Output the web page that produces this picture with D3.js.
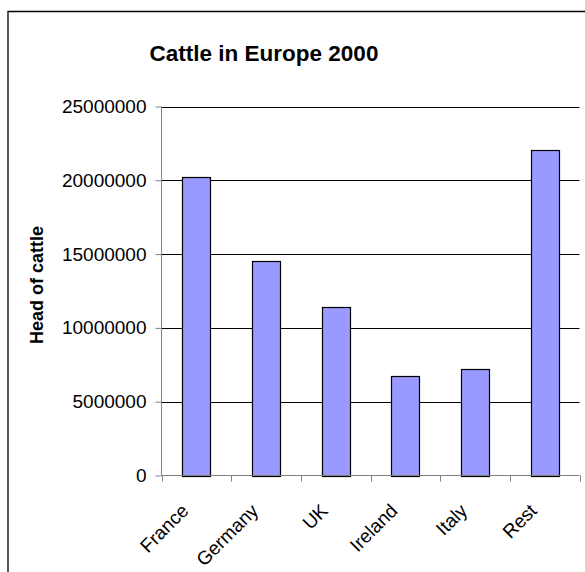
<!DOCTYPE html>
<html>
<head>
<meta charset="utf-8">
<script src="https://cdn.jsdelivr.net/npm/d3@7"></script>
<style>
  html, body { margin: 0; padding: 0; background: #fff; }
  svg { display: block; font-family: "Liberation Sans", Arial, sans-serif; }
</style>
</head>
<body>
<svg id="chart" width="585" height="572"></svg>
<script>
// Cattle head count by country, 2000
const categories = ["France", "Germany", "UK", "Ireland", "Italy", "Rest"];
const cattle = [20200000, 14550000, 11400000, 6720000, 7190000, 22070000];
const yTicks = [0, 5000000, 10000000, 15000000, 20000000, 25000000];
const chartTitle = "Cattle in Europe 2000";
const yTitle = "Head of cattle";

const svg = d3.select("#chart");
const margin = { left: 161.5, right: 579.5, top: 106.5, bottom: 475.5 };

// Chart frame: only the top and left edges fall inside the page
svg.append("path")
  .attr("d", "M585,11.5H8V572")
  .attr("fill", "none")
  .attr("stroke", "#000").attr("stroke-width", 1.3);

const x = d3.scaleBand()
  .domain(categories)
  .range([margin.left, margin.right])
  .paddingInner(0.6).paddingOuter(0.3);

const y = d3.scaleLinear()
  .domain([0, 25000000])
  .range([margin.bottom, margin.top]);

// Horizontal gridlines
svg.append("g")
  .selectAll("line")
  .data(yTicks.filter(d => d > 0))
  .join("line")
  .attr("x1", margin.left).attr("x2", margin.right)
  .attr("y1", d => Math.round(y(d)) + 0.5).attr("y2", d => Math.round(y(d)) + 0.5)
  .attr("stroke", "#000").attr("stroke-width", 1);

// Bars
svg.append("g")
  .selectAll("rect")
  .data(categories.map((c, i) => ({ c, v: cattle[i] })))
  .join("rect")
  .attr("x", d => Math.round(x(d.c)) + 0.5)
  .attr("y", d => Math.round(y(d.v)) + 0.5)
  .attr("width", d => Math.round(x.bandwidth()))
  .attr("height", d => Math.round(y(0)) - Math.round(y(d.v)))
  .attr("fill", "#9999ff")
  .attr("stroke", "#000").attr("stroke-width", 1.2);

// Y axis
const yAxis = svg.append("g")
  .attr("transform", `translate(${margin.left},0)`)
  .call(d3.axisLeft(y).tickValues(yTicks).tickSize(6).tickPadding(9).tickFormat(d3.format("d")));
yAxis.select(".domain").attr("stroke", "#808080").attr("d", `M0,${margin.top}V${margin.bottom}`);
yAxis.selectAll(".tick line").attr("stroke", "#808080");
yAxis.selectAll(".tick text")
  .attr("font-size", 19).attr("fill", "#000")
  .attr("font-family", "'Liberation Sans', Arial, sans-serif");

// X axis with category separators
const xAxisG = svg.append("g")
  .attr("transform", `translate(0,${margin.bottom})`);
xAxisG.append("line")
  .attr("x1", margin.left).attr("x2", margin.right)
  .attr("y1", 0).attr("y2", 0)
  .attr("stroke", "#808080");
const bounds = d3.range(categories.length + 1).map(i => margin.left + i * (margin.right - margin.left) / categories.length);
xAxisG.selectAll("line.sep")
  .data(bounds)
  .join("line").attr("class", "sep")
  .attr("x1", d => Math.round(d) + 0.5).attr("x2", d => Math.round(d) + 0.5)
  .attr("y1", 0).attr("y2", 6)
  .attr("stroke", "#808080");

// Rotated category labels
xAxisG.selectAll("text")
  .data(categories)
  .join("text")
  .attr("transform", d => `translate(${x(d) + x.bandwidth() / 2 - 16},${27}) rotate(-45)`)
  .attr("text-anchor", "end")
  .attr("dy", "0.7em")
  .attr("font-size", 19)
  .attr("fill", "#000")
  .text(d => d);

// Titles
svg.append("text")
  .attr("x", 264).attr("y", 61)
  .attr("text-anchor", "middle")
  .attr("font-size", 22.5).attr("font-weight", "bold")
  .text(chartTitle);

svg.append("text")
  .attr("transform", `translate(43,285) rotate(-90)`)
  .attr("text-anchor", "middle")
  .attr("font-size", 18).attr("font-weight", "bold")
  .text(yTitle);
</script>
</body>
</html>
